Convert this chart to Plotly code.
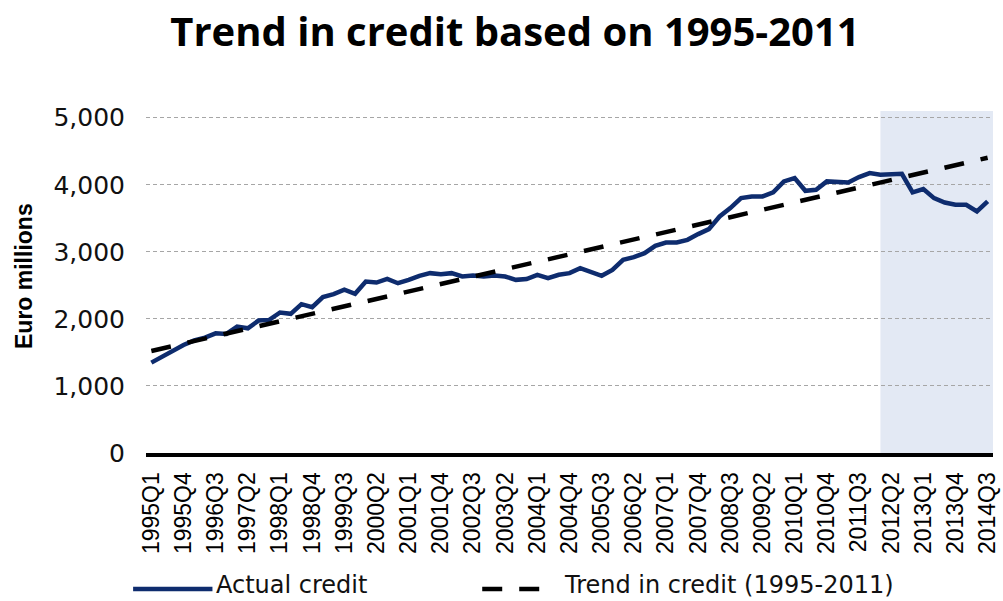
import plotly.graph_objects as go

# ---- data ----
years = list(range(1995, 2015))
quarters = [f"{y}Q{q}" for y in years for q in range(1, 5)][:79]  # 1995Q1 .. 2014Q3

actual_credit = [
    1348, 1440, 1530, 1610, 1680, 1720, 1785, 1775, 1885, 1860,
    1975, 1985, 2095, 2075, 2220, 2175, 2325, 2370, 2435, 2375,
    2557, 2542, 2597, 2532, 2582, 2642, 2682, 2667, 2682, 2632,
    2647, 2632, 2647, 2632, 2582, 2595, 2657, 2607, 2657, 2682,
    2757, 2706, 2642, 2731, 2881, 2920, 2980, 3090, 3139, 3139,
    3179, 3264, 3338, 3527, 3652, 3801, 3826, 3826, 3886, 4050,
    4100, 3910, 3925, 4050, 4035, 4035, 4115, 4175, 4150, 4164,
    4164, 3886, 3935, 3801, 3736, 3701, 3701, 3602, 3751,
]

trend_x = ["1995Q1", "2014Q3"]
trend_y = [1522, 4403]

tick_labels = quarters[::3]
y_ticks = [0, 1000, 2000, 3000, 4000, 5000]
shade_start = "2012Q1"

title_text = "Trend in credit based on 1995-2011"
y_title = "Euro millions"
legend_names = ["Actual credit", "Trend in credit (1995-2011)"]

# ---- figure ----
NAVY = "#0E2C6E"
W, H = 1003, 601
L, R, T, B = 146, 3, 111, 148
PW, PH = W - L - R, H - T - B


def px_x(px):
    return (px - L) / PW


def px_y(py):
    return (H - B - py) / PH


fig = go.Figure()
fig.add_trace(go.Scatter(
    x=quarters, y=actual_credit, mode="lines", name=legend_names[0],
    line=dict(color=NAVY, width=4.5), showlegend=False,
))
fig.add_trace(go.Scatter(
    x=trend_x, y=trend_y, mode="lines", name=legend_names[1],
    line=dict(color="black", width=4.5, dash="20px,17px"), showlegend=False,
))

# shaded post-2011 region
fig.add_shape(type="rect", xref="x", yref="paper",
              x0=quarters.index(shade_start), x1=len(quarters) - 0.5, y0=0, y1=1,
              fillcolor="#E3E9F4", line=dict(width=0), layer="below")

# manual legend
fig.add_shape(type="line", xref="paper", yref="paper",
              x0=px_x(133), x1=px_x(213), y0=px_y(589), y1=px_y(589),
              line=dict(color=NAVY, width=4.5))
fig.add_shape(type="line", xref="paper", yref="paper",
              x0=px_x(485), x1=px_x(545), y0=px_y(589), y1=px_y(589),
              line=dict(color="black", width=4.5, dash="20px,17px"))
fig.add_annotation(text=legend_names[0], xref="paper", yref="paper",
                   x=px_x(216), y=px_y(585), xanchor="left", yanchor="middle",
                   showarrow=False, borderpad=0,
                   font=dict(family="DejaVu Sans", size=24, color="#111"))
fig.add_annotation(text=legend_names[1], xref="paper", yref="paper",
                   x=px_x(566), y=px_y(585), xanchor="left", yanchor="middle",
                   showarrow=False, borderpad=0,
                   font=dict(family="DejaVu Sans", size=24, color="#111"))

# y-axis title
fig.add_annotation(text=f"<b>{y_title}</b>", xref="paper", yref="paper",
                   x=px_x(23), y=px_y(276), xanchor="center", yanchor="middle",
                   textangle=-90, showarrow=False,
                   font=dict(family="Liberation Sans", size=23, color="black"))

fig.update_layout(
    width=W, height=H,
    margin=dict(l=L, r=R, t=T, b=B),
    paper_bgcolor="white", plot_bgcolor="rgba(0,0,0,0)",
    title=dict(text=f"<b>{title_text}</b>", x=515 / W, xanchor="center",
               y=1 - 32 / H, yanchor="middle", yref="container",
               font=dict(family="Open Sans", size=40, color="black")),
    showlegend=False,
)
fig.update_xaxes(
    type="category", categoryorder="array", categoryarray=quarters,
    range=[-0.5, len(quarters) - 0.5],
    tickmode="array", tickvals=tick_labels, ticktext=tick_labels,
    tickangle=-90, ticks="", ticklabelstandoff=6,
    tickfont=dict(family="Liberation Sans", size=23, color="black"),
    showgrid=False, showline=True, linecolor="black", linewidth=4,
    zeroline=False,
)
fig.update_yaxes(
    range=[0, 5100], tickvals=y_ticks, tickformat=",d",
    ticks="", ticklabelstandoff=20,
    tickfont=dict(family="DejaVu Sans", size=25, color="#111"),
    showgrid=True, gridcolor="#A6A6A6", gridwidth=1, griddash="4px,3px",
    zeroline=False, showline=False,
)

fig.write_html("out.html", config={"displayModeBar": False},
               post_script="document.body.style.margin='0';document.body.style.overflow='hidden';")
